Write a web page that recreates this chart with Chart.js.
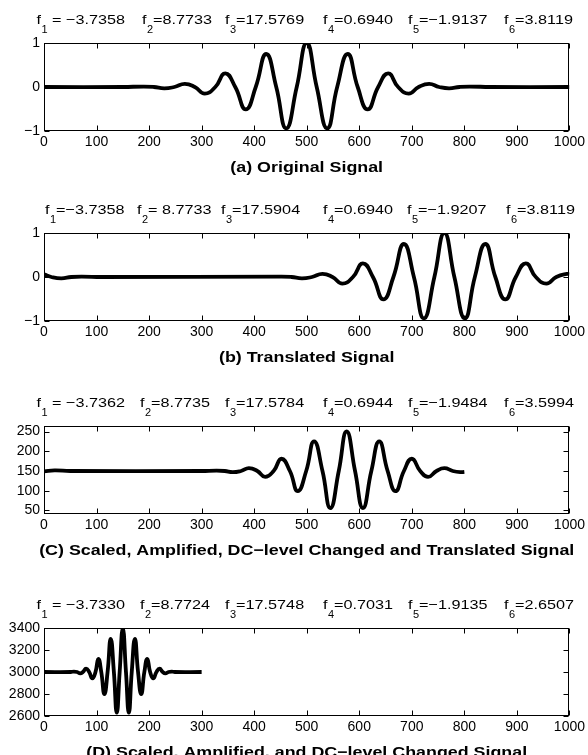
<!DOCTYPE html>
<html>
<head>
<meta charset="utf-8">
<script src="https://cdn.jsdelivr.net/npm/chart.js@4.4.0/dist/chart.umd.min.js"></script>
<style>
  body { margin: 0; background: #fff; width: 588px; height: 755px; overflow: hidden; position: relative; }
  canvas { position: absolute; left: 0; }
</style>
</head>
<body>
<canvas id="chartA" width="588" height="176" style="top:0px"></canvas>
<canvas id="chartB" width="588" height="176" style="top:190px"></canvas>
<canvas id="chartC" width="588" height="176" style="top:383px"></canvas>
<canvas id="chartD" width="588" height="176" style="top:585px"></canvas>
<script>
// (a) original signal
const xA = [0, 150, 190, 209, 229, 248, 268, 287, 306, 326, 345, 364, 384, 403, 423, 442, 461, 481, 500, 519, 539, 558, 578, 597, 616, 636, 655, 674, 694, 713, 733, 752, 771, 791, 810, 850, 1000];
const yA = [0, 0, 0.01, 0, -0.03, 0, 0.07, 0, -0.15, 0, 0.31, 0, -0.51, 0, 0.75, 0, -0.94, 0, 1.0, 0, -0.94, 0, 0.75, 0, -0.51, 0, 0.31, 0, -0.15, 0, 0.07, 0, -0.03, 0, 0.01, 0, 0];

// (b) translated signal
const xB = [0, 14, 33, 52, 72, 110, 452, 471, 491, 510, 530, 549, 568, 588, 607, 626, 646, 665, 685, 704, 723, 743, 762, 781, 801, 820, 840, 859, 878, 898, 917, 936, 956, 975, 995, 1000];
const yB = [0.06, 0, -0.03, 0, 0.01, 0, 0.01, 0, -0.03, 0, 0.07, 0, -0.15, 0, 0.31, 0, -0.51, 0, 0.75, 0, -0.94, 0, 1.0, 0, -0.94, 0, 0.75, 0, -0.51, 0, 0.31, 0, -0.15, 0, 0.07, 0.06];

// (c) scaled, amplified, dc changed and translated
const xC = [0, 20, 50, 300, 328, 344, 359, 375, 390, 406, 421, 437, 452, 468, 483, 499, 514, 530, 545, 561, 576, 592, 607, 623, 638, 654, 669, 685, 700, 716, 731, 747, 762, 778, 793, 800];
const yC = [149, 151.5, 150, 150, 151, 150, 147, 150, 157, 150, 135, 150, 181, 150, 99, 150, 225, 150, 56, 150, 250, 150, 56, 150, 225, 150, 99, 150, 181, 150, 135, 150, 157, 150, 147, 148];

// (d) scaled, amplified, dc changed
const xD = [0, 51, 57, 63, 69, 74, 80, 86, 92, 98, 103.5, 109, 115, 121, 127, 133, 138.5, 144, 150, 156, 161.5, 167, 173, 179, 185, 191, 196.5, 202, 208, 214, 220, 226, 231, 237, 243, 249, 300];
const yD = [3000, 3000, 3004, 3000, 2988, 3000, 3030, 3000, 2942, 3000, 3120, 3000, 2800, 3000, 3300, 3000, 2630, 3000, 3395, 3000, 2630, 3000, 3300, 3000, 2800, 3000, 3120, 3000, 2942, 3000, 3030, 3000, 2988, 3000, 3004, 3000, 3000];

// tick labels
const xTicks = [0, 100, 200, 300, 400, 500, 600, 700, 800, 900, 1000];
const yTicksAB = [-1, 0, 1];
const yTicksC = [50, 100, 150, 200, 250];
const yTicksD = [2600, 2800, 3000, 3200, 3400];

// f_i texts above each panel
const fSubs = ['1', '2', '3', '4', '5', '6'];
const fTextA = [' = \u22123.7358', '=8.7733', '=17.5769', '=0.6940', '=\u22121.9137', '=3.8119'];
const fTextB = ['=\u22123.7358', '= 8.7733', '=17.5904', '=0.6940', '=\u22121.9207', '=3.8119'];
const fTextC = [' = \u22123.7362', '=8.7735', '=17.5784', '=0.6944', '=\u22121.9484', '=3.5994'];
const fTextD = [' = \u22123.7330', '=8.7724', '=17.5748', '=0.7031', '=\u22121.9135', '=2.6507'];

const captions = [
    '(a) Original Signal',
    '(b) Translated Signal',
    '(C) Scaled, Amplified, DC\u2212level Changed and Translated Signal',
    '(D) Scaled, Amplified, and DC\u2212level Changed Signal'
];

// layout of the f_i items (x of each "f")
const fPosA = [36.5, 142, 225, 323, 408, 504];
const fPosB = [45, 137, 221, 323, 407, 506];
const fPosCD = [36.5, 140, 225, 323, 408, 504];

const FONT = "'Liberation Sans', Arial, Helvetica, sans-serif";

const panels = [
    { id: 'chartA', x: xA, y: yA, ymin: -1, ymax: 1, yticks: yTicksAB, ftext: fTextA, fpos: fPosA, caption: captions[0] },
    { id: 'chartB', x: xB, y: yB, ymin: -1, ymax: 1, yticks: yTicksAB, ftext: fTextB, fpos: fPosB, caption: captions[1] },
    { id: 'chartC', x: xC, y: yC, ymin: 41, ymax: 264, yticks: yTicksC, ftext: fTextC, fpos: fPosCD, caption: captions[2] },
    { id: 'chartD', x: xD, y: yD, ymin: 2600, ymax: 3400, yticks: yTicksD, ftext: fTextD, fpos: fPosCD, caption: captions[3] }
];

function drawStretched(ctx, str, x, y, font, sx, align) {
    ctx.save();
    ctx.font = font;
    ctx.textAlign = align || 'left';
    ctx.textBaseline = 'alphabetic';
    ctx.translate(x, y);
    ctx.scale(sx, 1);
    ctx.fillText(str, 0, 0);
    const w = ctx.measureText(str).width * sx;
    ctx.restore();
    return w;
}

// box, inward ticks, f line and caption (matlab look)
const boxPlugin = {
    id: 'boxPlugin',
    afterDraw(chart) {
        const { ctx, chartArea: { left, top, right, bottom }, scales: { x, y } } = chart;
        const panel = panels.find(p => p.id === chart.canvas.id);
        ctx.save();
        ctx.strokeStyle = '#000';
        ctx.lineWidth = 1;
        const l = Math.round(left) + 0.5, r = Math.round(right) - 0.5;
        const t = Math.round(top) + 0.5, b = Math.round(bottom) - 0.5;
        ctx.strokeRect(l, t, r - l, b - t);
        ctx.beginPath();
        x.ticks.forEach(tk => {
            const px = Math.round(x.getPixelForValue(tk.value)) + 0.5;
            ctx.moveTo(px, b); ctx.lineTo(px, b - 5);
            ctx.moveTo(px, t); ctx.lineTo(px, t + 5);
        });
        y.ticks.forEach(tk => {
            const py = Math.round(y.getPixelForValue(tk.value)) + 0.5;
            ctx.moveTo(l, py); ctx.lineTo(l + 5, py);
            ctx.moveTo(r, py); ctx.lineTo(r - 5, py);
        });
        ctx.stroke();

        ctx.fillStyle = '#000';
        const base = top - 19;
        const mainFont = '13.5px ' + FONT;
        const subFont = '10px ' + FONT;
        panel.ftext.forEach((txt, i) => {
            let px = panel.fpos[i];
            px += drawStretched(ctx, 'f', px, base, mainFont, 1.2);
            px += drawStretched(ctx, fSubs[i], px + 0.5, base + 8.5, subFont, 1.1) + 0.5;
            drawStretched(ctx, txt, px, base, mainFont, 1.2);
        });

        drawStretched(ctx, panel.caption, (left + right) / 2, bottom + 40.5, 'bold 15px ' + FONT, 1.19, 'center');
        ctx.restore();
    }
};

panels.forEach(p => {
    const ctx = document.getElementById(p.id).getContext('2d');
    new Chart(ctx, {
        type: 'line',
        data: {
            datasets: [{
                data: p.x.map((v, i) => ({ x: v, y: p.y[i] })),
                borderColor: '#000',
                borderWidth: 3.8,
                pointRadius: 0,
                fill: false,
                tension: 0.5
            }]
        },
        options: {
            responsive: false,
            animation: false,
            events: [],
            layout: { padding: { top: 43, right: 17, left: 0, bottom: 0 } },
            scales: {
                x: {
                    type: 'linear',
                    min: 0,
                    max: 1000,
                    afterBuildTicks: s => { s.ticks = xTicks.map(v => ({ value: v })); },
                    afterFit: s => { s.height = 45; },
                    grid: { display: false, drawTicks: false },
                    border: { display: false },
                    ticks: {
                        color: '#000',
                        padding: 3,
                        maxRotation: 0,
                        autoSkip: false,
                        font: { family: FONT, size: 14, lineHeight: 1.2 },
                        callback: v => String(v)
                    }
                },
                y: {
                    min: p.ymin,
                    max: p.ymax,
                    afterBuildTicks: s => { s.ticks = p.yticks.map(v => ({ value: v })); },
                    afterFit: s => { s.width = 44; },
                    grid: { display: false, drawTicks: false },
                    border: { display: false },
                    ticks: {
                        color: '#000',
                        padding: 4,
                        font: { family: FONT, size: 14, lineHeight: 1.2 },
                        callback: v => String(v).replace('-', '\u2212')
                    }
                }
            },
            plugins: {
                legend: { display: false },
                tooltip: { enabled: false }
            }
        },
        plugins: [boxPlugin]
    });
});
</script>
</body>
</html>
